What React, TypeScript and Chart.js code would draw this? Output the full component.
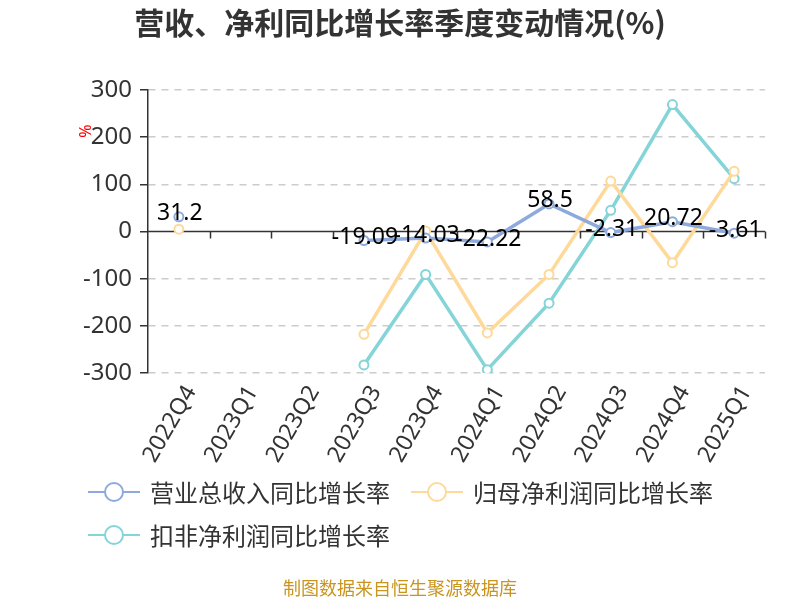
import React, { useEffect, useRef } from "react";
import { Chart, registerables } from "chart.js";

Chart.register(...registerables);

const categories = ["2022Q4", "2023Q1", "2023Q2", "2023Q3", "2023Q4", "2024Q1", "2024Q2", "2024Q3", "2024Q4", "2025Q1"];
const revenueGrowth = [31.2, null, null, -19.09, -14.03, -22.22, 58.5, -2.31, 20.72, -3.61];
const netProfitGrowth = [5, null, null, -218, 1, -215, -91, 107, -66, 128];
const deductedProfitGrowth = [null, null, null, -283, -91, -293, -152, 45, 269, 112];
const seriesNames = ["营业总收入同比增长率", "归母净利润同比增长率", "扣非净利润同比增长率"];
const seriesColors = ["#8eaadc", "#fed99a", "#84d4d8"];
const titleText = "营收、净利同比增长率季度变动情况(%)";
const sourceText = "制图数据来自恒生聚源数据库";
const yUnit = "%";

const FONT = "'Noto Sans', 'Noto Sans CJK SC', sans-serif";
const CJK = "'Noto Sans CJK SC', 'Noto Sans', sans-serif";

const decorPlugin = {
  id: "decor",
  beforeDatasetsDraw(chart: any) {
    const { ctx, chartArea, scales } = chart;
    const y = scales.y;
    const y0 = y.getPixelForValue(0);
    ctx.save();
    ctx.strokeStyle = "#333";
    ctx.lineWidth = 1.5;
    ctx.beginPath();
    ctx.moveTo(chartArea.left, y0);
    ctx.lineTo(chartArea.right, y0);
    const n = categories.length;
    const step = (chartArea.right - chartArea.left) / n;
    for (let i = 1; i <= n; i++) {
      const px = Math.round(chartArea.left + i * step) + 0.5;
      ctx.moveTo(px, y0);
      ctx.lineTo(px, y0 + 7);
    }
    ctx.stroke();
    ctx.restore();
  },
  afterDatasetsDraw(chart: any) {
    const { ctx } = chart;
    const meta = chart.getDatasetMeta(0);
    ctx.save();
    ctx.font = `23px ${FONT}`;
    ctx.fillStyle = "#000";
    ctx.textAlign = "center";
    ctx.textBaseline = "middle";
    meta.data.forEach((pt: any, i: number) => {
      const v = revenueGrowth[i];
      if (v === null || v === undefined) return;
      ctx.fillText(String(v), pt.x + 1, pt.y - 3);
    });
    ctx.restore();
  },
  afterDraw(chart: any) {
    const { ctx } = chart;
    ctx.save();
    // title
    ctx.font = `bold 30px ${CJK}`;
    ctx.fillStyle = "#333";
    ctx.textAlign = "center";
    ctx.textBaseline = "middle";
    ctx.fillText(titleText, 400, 23);
    // y unit
    ctx.save();
    ctx.translate(86, 131);
    ctx.rotate(-Math.PI / 2);
    ctx.font = `16px ${FONT}`;
    ctx.fillStyle = "#ff0000";
    ctx.fillText(yUnit, 0, 0);
    ctx.restore();
    // legend
    ctx.font = `24px ${CJK}`;
    ctx.textAlign = "left";
    const positions = [
      [88, 492],
      [0, 492],
      [88, 535],
    ];
    let cursor = 88;
    seriesNames.forEach((name, i) => {
      let sx = positions[i][0];
      const sy = positions[i][1];
      if (i === 1) sx = cursor;
      ctx.strokeStyle = seriesColors[i];
      ctx.lineWidth = 2;
      ctx.beginPath();
      ctx.moveTo(sx, sy);
      ctx.lineTo(sx + 52, sy);
      ctx.stroke();
      ctx.beginPath();
      ctx.arc(sx + 26, sy, 9, 0, Math.PI * 2);
      ctx.fillStyle = "#fff";
      ctx.fill();
      ctx.stroke();
      ctx.fillStyle = "#333";
      ctx.fillText(name, sx + 62, sy + 1);
      const w = ctx.measureText(name).width;
      if (i === 0) cursor = sx + 62 + w + 21;
    });
    // source
    ctx.font = `18px ${CJK}`;
    ctx.fillStyle = "#c8951f";
    ctx.textAlign = "center";
    ctx.fillText(sourceText, 400, 588);
    ctx.restore();
  },
};

function makeDataset(label: string, data: (number | null)[], color: string) {
  return {
    label,
    data,
    borderColor: color,
    backgroundColor: "#fff",
    borderWidth: 3.5,
    pointRadius: 4.5,
    pointBorderWidth: 2,
    pointBackgroundColor: "#fff",
    pointBorderColor: color,
    tension: 0,
    spanGaps: false,
  };
}

export default function App() {
  const canvasRef = useRef<HTMLCanvasElement | null>(null);

  useEffect(() => {
    if (!canvasRef.current) return;
    const chart = new Chart(canvasRef.current, {
      type: "line",
      data: {
        labels: categories,
        datasets: [
          makeDataset(seriesNames[0], revenueGrowth, seriesColors[0]),
          makeDataset(seriesNames[1], netProfitGrowth, seriesColors[1]),
          makeDataset(seriesNames[2], deductedProfitGrowth, seriesColors[2]),
        ],
      },
      options: {
        animation: false,
        responsive: true,
        maintainAspectRatio: false,
        layout: { padding: { left: 0, right: 35, top: 90, bottom: 0 } },
        plugins: {
          legend: { display: false },
          title: { display: false },
          tooltip: { enabled: false },
        },
        scales: {
          x: {
            offset: true,
            grid: { display: false },
            border: { display: false },
            ticks: {
              color: "#333",
              font: { size: 23, family: FONT },
              maxRotation: 60,
              minRotation: 60,
              padding: 0,
              labelOffset: 12,
            },
            afterFit(scale: any) {
              scale.height = 227;
            },
          },
          y: {
            min: -300,
            max: 300,
            grid: {
              color: (c: any) => (c.tick && c.tick.value === 0 ? "rgba(0,0,0,0)" : "#cccccc"),
              lineWidth: 1.5,
              drawTicks: true,
              tickLength: 8,
              tickColor: "#333",
              tickWidth: 1.5,
            },
            border: { display: true, color: "#333", width: 1.5, dash: [7, 6] },
            ticks: {
              stepSize: 100,
              color: "#333",
              font: { size: 24, family: FONT },
              padding: 8,
            },
            afterFit(scale: any) {
              scale.width = 148;
            },
          },
        },
      },
      plugins: [decorPlugin],
    });
    return () => chart.destroy();
  }, []);

  return (
    <div style={{ position: "absolute", left: 0, top: 0, width: 800, height: 600 }}>
      <canvas ref={canvasRef} />
    </div>
  );
}
